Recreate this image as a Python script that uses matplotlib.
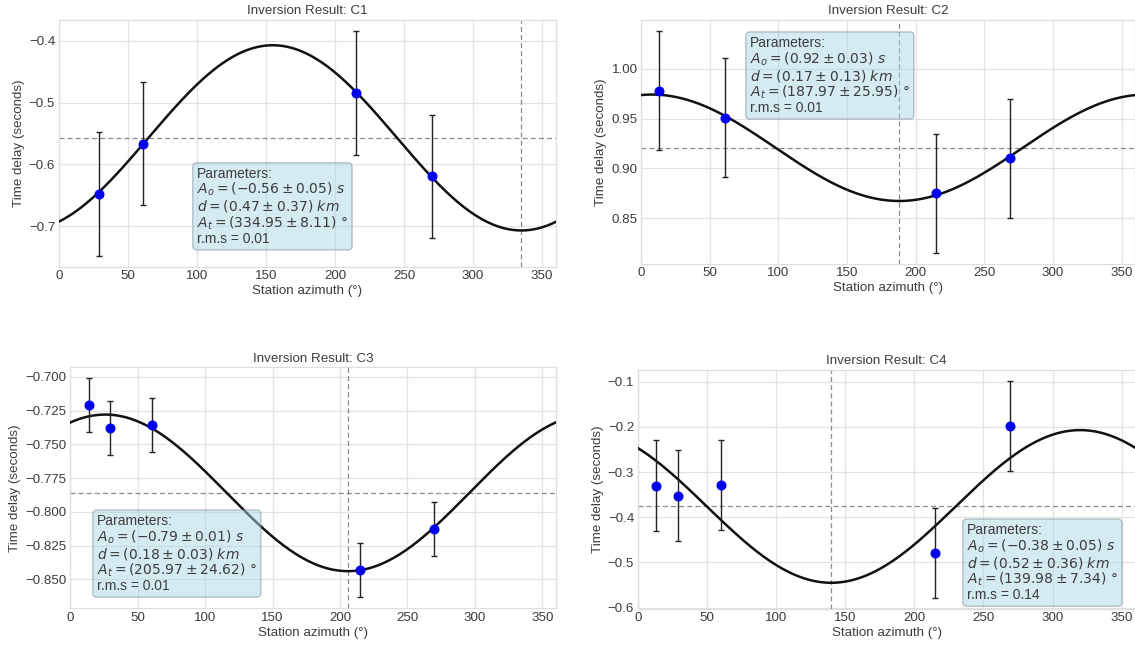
import numpy as np
import matplotlib
matplotlib.use("Agg")
import matplotlib.pyplot as plt

plt.rcParams['font.family'] = ['Liberation Sans', 'DejaVu Sans']
plt.rcParams['mathtext.fontset'] = 'dejavusans'

# ---------------- data ----------------
titles = ["Inversion Result: C1", "Inversion Result: C2",
          "Inversion Result: C3", "Inversion Result: C4"]

az_c1 = [29.5, 61, 215.5, 270]
td_c1 = [-0.648, -0.5665, -0.4843, -0.6195]
err_c1 = [0.1, 0.1, 0.1, 0.1]

az_c2 = [13, 61, 215, 269]
td_c2 = [0.978, 0.951, 0.875, 0.910]
err_c2 = [0.06, 0.06, 0.06, 0.06]

az_c3 = [13.5, 29.5, 60.5, 214.5, 270]
td_c3 = [-0.7211, -0.7381, -0.7357, -0.8434, -0.8131]
err_c3 = [0.02, 0.02, 0.02, 0.02, 0.02]

az_c4 = [13.5, 29.5, 60.5, 215, 269.5]
td_c4 = [-0.330, -0.352, -0.329, -0.479, -0.198]
err_c4 = [0.1, 0.1, 0.1, 0.1, 0.1]

# fitted cosine: offset - amplitude * cos(az - At)
fit_offset = [-0.557, 0.9207, -0.786, -0.376]
fit_amplitude = [0.150, 0.0535, 0.058, 0.169]
fit_At = [334.95, 187.97, 205.97, 139.98]

param_Ao = ["-0.56 \\pm 0.05", "0.92 \\pm 0.03", "-0.79 \\pm 0.01", "-0.38 \\pm 0.05"]
param_d = ["0.47 \\pm 0.37", "0.17 \\pm 0.13", "0.18 \\pm 0.03", "0.52 \\pm 0.36"]
param_At = ["334.95 \\pm 8.11", "187.97 \\pm 25.95", "205.97 \\pm 24.62", "139.98 \\pm 7.34"]
param_rms = ["0.01", "0.01", "0.01", "0.14"]

yticks_c1 = [-0.7, -0.6, -0.5, -0.4]
yticks_c2 = [0.85, 0.90, 0.95, 1.00]
yticks_c3 = [-0.850, -0.825, -0.800, -0.775, -0.750, -0.725, -0.700]
yticks_c4 = [-0.6, -0.5, -0.4, -0.3, -0.2, -0.1]
xticks = [0, 50, 100, 150, 200, 250, 300, 350]

# ---------------- layout ----------------
W, H = 1135, 652
fig = plt.figure(figsize=(W / 100, H / 100), dpi=100)

# pixel boxes: left, top, right, bottom
boxes = [(58.7, 20, 556, 267),
         (641, 20, 1135.4, 264),
         (70.3, 367.3, 555.7, 608.3),
         (637.7, 370, 1135.5, 609)]
# text anchors (axes fraction) and vertical alignment
text_pos = [(0.278, 0.405, 'top'),
            (0.2205, 0.934, 'top'),
            (0.055, 0.0635, 'bottom'),
            (0.6615, 0.029, 'bottom')]
yfmt = ["%.1f", "%.2f", "%.3f", "%.1f"]

series = [(az_c1, td_c1, err_c1, yticks_c1),
          (az_c2, td_c2, err_c2, yticks_c2),
          (az_c3, td_c3, err_c3, yticks_c3),
          (az_c4, td_c4, err_c4, yticks_c4)]

txtcol = '#3c3c3c'
fs = 9.6

for i, (az, td, err, yt) in enumerate(series):
    l, t, r, b = boxes[i]
    ax = fig.add_axes([l / W, 1 - b / H, (r - l) / W, (b - t) / H])
    ax.set_facecolor('white')
    for sp in ax.spines.values():
        sp.set_color('#dedede')
        sp.set_linewidth(0.9)
    ax.grid(True, color='#e3e3e3', linewidth=0.9)
    ax.set_axisbelow(True)

    xs = np.linspace(0, 360, 721)
    ys = fit_offset[i] - fit_amplitude[i] * np.cos(np.radians(xs - fit_At[i]))
    ax.plot(xs, ys, color='#111111', lw=1.8, zorder=3)

    ax.errorbar(az, td, yerr=err, fmt='none', ecolor='#222222', elinewidth=1.0,
                capsize=2.0, capthick=1.0, zorder=4)
    ax.plot(az, td, 'o', color='#0000ee', markersize=6.2, zorder=5)

    ax.axhline(fit_offset[i], color='#8a8a8a', ls=(0, (4, 2.5)), lw=0.9, zorder=2)
    ax.axvline(fit_At[i], color='#8a8a8a', ls=(0, (4, 2.5)), lw=0.9, zorder=2)

    ax.set_xlim(0, 360)
    ax.set_xticks(xticks)
    ax.set_yticks(yt)
    ax.yaxis.set_major_formatter(matplotlib.ticker.FuncFormatter(
        lambda v, p, f=yfmt[i]: (f % v).replace('-', '\u2212')))
    lo = min(np.array(td) - np.array(err))
    hi = max(np.array(td) + np.array(err))
    m = 0.05 * (hi - lo)
    ax.set_ylim(lo - m, hi + m)

    ax.tick_params(length=0, labelsize=fs, labelcolor=txtcol, pad=2.5)
    ax.set_title(titles[i], fontsize=fs, color=txtcol, pad=4)
    ax.set_xlabel("Station azimuth (\u00b0)", fontsize=fs, color=txtcol, labelpad=2)
    ax.set_ylabel("Time delay (seconds)", fontsize=fs, color=txtcol, labelpad=3)

    txt = ("Parameters:\n"
           + "$A_o = (" + param_Ao[i] + ")\\ s$\n"
           + "$d = (" + param_d[i] + ")\\ km$\n"
           + "$A_t = (" + param_At[i] + ")\\ \\degree$\n"
           + "r.m.s = " + param_rms[i])
    x0, y0, va = text_pos[i]
    ax.text(x0, y0, txt, transform=ax.transAxes, ha='left', va=va,
            fontsize=10.0, color=txtcol, linespacing=1.0, zorder=6,
            bbox=dict(boxstyle='round,pad=0.3', facecolor='#add8e6', alpha=0.5,
                      edgecolor='#7a8a90'))

fig.savefig("out.png", dpi=100)
